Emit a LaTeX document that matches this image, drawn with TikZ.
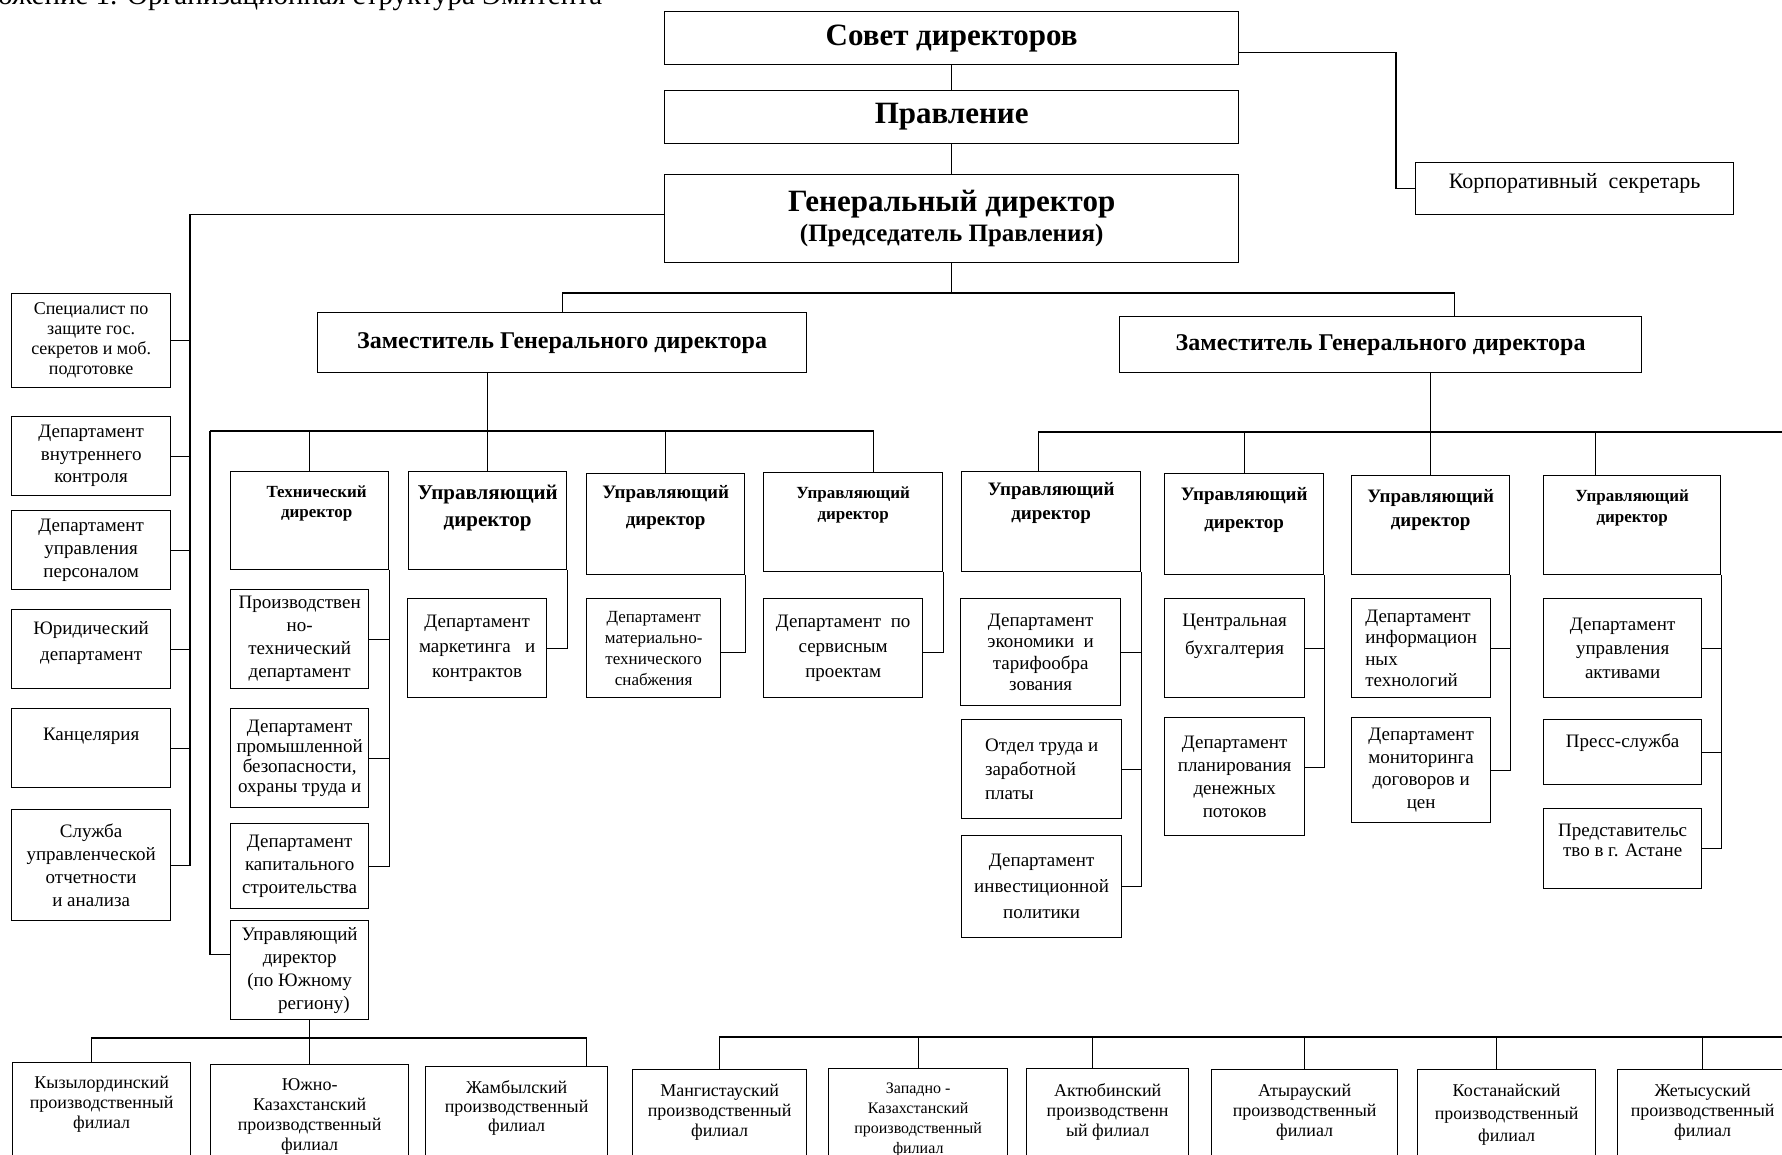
\documentclass[tikz,border=0pt]{standalone}
\usepackage{fontspec}
\setmainfont{Liberation Serif}
\usetikzlibrary{positioning,calc}

\newcommand{\fsz}[2]{\fontsize{#1}{#2}\selectfont}

\tikzset{
  box/.style={draw, line width=1.3pt, anchor=north west, inner sep=0pt, align=center},
  link/.style={line width=1.1pt},
  lab/.style={anchor=north, inner sep=0pt, align=center},
}

\begin{document}
\begin{tikzpicture}[x=1pt,y=-1pt]
    \useasboundingbox (0,0) rectangle (1782,1155);
    \clip (0,0) rectangle (1782,1155);

    % title, cut off at the top
    \node[anchor=base west, inner sep=0pt, font=\fsz{29}{33}] (title) at (-2,5) {ожение 1. Организационная структура Эмитента};

    % top of the structure
    \node[box, minimum width=574, minimum height=53, font=\bfseries\fsz{31}{34}] (sovet) at (664,11) {Совет директоров};
    \node[box, minimum width=574, minimum height=53, font=\bfseries\fsz{31}{34}] (pravl) at (664,90) {Правление};
    \node[box, minimum width=574, minimum height=88, font=\bfseries\fsz{31}{30}] (gen) at (664,174) {Генеральный директор\\{\fsz{25}{30}(Председатель Правления)}};
    \node[box, minimum width=318, minimum height=52, label={[lab, yshift=-11, font=\fsz{22}{26}]north:{Корпоративный\ \ секретарь}}] (korp) at (1415,162) {};

    \coordinate (kbend) at (1396,0);
    \coordinate (tbus) at (0,293);
    \draw[link] (sovet.south) -- (pravl.north);
    \draw[link] (pravl.south) -- (gen.north);
    \draw[link] ([yshift=-14]sovet.east) -| (kbend |- korp.west) -- (korp.west);

    % deputies
    \node[box, minimum width=489, minimum height=60, font=\bfseries\fsz{24}{28}] (zam1) at (317,312) {Заместитель Генерального директора};
    \node[box, minimum width=522, minimum height=56, font=\bfseries\fsz{24}{28}] (zam2) at (1119,316) {Заместитель Генерального директора};
    \coordinate (z2top) at ([xshift=74]zam2.north);
    \draw[link] (gen.south) -- (gen.south |- tbus);
    \draw[link] (zam1.north) |- (z2top |- tbus) -- (z2top);

    % left column under the general director
    \node[box, minimum width=159, minimum height=94, font=\fsz{18}{20}] (spec) at (11,293) {Специалист по\\защите гос.\\секретов и моб.\\подготовке};
    \node[box, minimum width=159, minimum height=79, font=\fsz{19}{22.5}] (vnk) at (11,416) {Департамент\\внутреннего\\контроля};
    \node[box, minimum width=159, minimum height=79, font=\fsz{19}{23}] (hr) at (11,510) {Департамент\\управления\\персоналом};
    \node[box, minimum width=159, minimum height=79, label={[lab, yshift=-12, font=\fsz{19}{26}]north:{Юридический\\департамент}}] (yur) at (11,609) {};
    \node[box, minimum width=159, minimum height=79, label={[lab, yshift=-20, font=\fsz{19}{22}]north:{Канцелярия}}] (kanc) at (11,708) {};
    \node[box, minimum width=159, minimum height=111, font=\fsz{19}{23}] (sluzh) at (11,809) {Служба\\управленческой\\отчетности\\и анализа};

    \coordinate (ltrunk) at (190,0);
    \draw[link] ([yshift=4]gen.west) -| (ltrunk |- sluzh.east) -- (sluzh.east);
    \foreach \n in {spec,vnk,hr,yur,kanc}
        \draw[link] (\n.east) -- (\n.east -| ltrunk);

    % first deputy: directors
    \node[box, minimum width=158, minimum height=98, label={[lab, yshift=-15, xshift=7, font=\bfseries\fsz{17}{20}]north:{Технический\\директор}}] (tech) at (230,471) {};
    \node[box, minimum width=158, minimum height=98, label={[lab, yshift=-14, font=\bfseries\fsz{21}{27}]north:{Управляющий\\директор}}] (ud1) at (408,471) {};
    \node[box, minimum width=158, minimum height=101, label={[lab, yshift=-12, font=\bfseries\fsz{19}{27}]north:{Управляющий\\директор}}] (ud2) at (586,473) {};
    \node[box, minimum width=179, minimum height=99, label={[lab, yshift=-15, font=\bfseries\fsz{17}{21}]north:{Управляющий\\директор}}] (ud3) at (763,472) {};

    \coordinate (lbus) at (210,431);
    \coordinate (ud3top) at ([xshift=20]ud3.north);
    \draw[link] (zam1.south -| ud1.north) -- (ud1.north);
    \draw[link] (lbus) -- (ud3top |- lbus) -- (ud3top);
    \draw[link] (tech.north) -- (tech.north |- lbus);
    \draw[link] (ud2.north) -- (ud2.north |- lbus);

    % technical director departments
    \node[box, minimum width=138, minimum height=99, font=\fsz{19}{23}] (prt) at (230,589) {Производствен\\но-\\технический\\департамент};
    \node[box, minimum width=138, minimum height=99, font=\fsz{19}{20}] (pbez) at (230,708) {Департамент\\промышленной\\безопасности,\\охраны труда и};
    \node[box, minimum width=138, minimum height=85, font=\fsz{19}{23}] (kap) at (230,823) {Департамент\\капитального\\строительства};
    \node[box, minimum width=138, minimum height=99, font=\fsz{19}{23}] (udug) at (230,920) {Управляющий\\директор\\(по Южному\\\hspace*{1.5em}региону)};

    \draw[link] (tech.south east) |- (kap.east);
    \draw[link] (prt.east) -- (prt.east -| tech.east);
    \draw[link] (pbez.east) -- (pbez.east -| tech.east);
    \draw[link] (lbus) |- ([yshift=16]udug.west);

    % managing directors departments
    \node[box, minimum width=139, minimum height=99, font=\fsz{19}{25}] (mark) at (407,598) {Департамент\\маркетинга\ \ \ и\\контрактов};
    \node[box, minimum width=134, minimum height=99, font=\fsz{17}{21}] (mts) at (586,598) {Департамент\\материально-\\технического\\снабжения};
    \node[box, minimum width=159, minimum height=99, font=\fsz{19}{25}] (serv) at (763,598) {Департамент\ \ по\\сервисным\\проектам};
    \draw[link] (ud1.south east) |- (mark.east);
    \draw[link] (ud2.south east) |- ([yshift=-4]mts.east);
    \draw[link] (ud3.south east) |- ([yshift=-4]serv.east);

    % southern region branches
    \node[box, minimum width=178, minimum height=110, label={[lab, yshift=-14, font=\fsz{18}{20}]north:{Кызылординский\\производственный\\филиал}}] (kyz) at (12,1062) {};
    \node[box, minimum width=198, minimum height=110, label={[lab, yshift=-14, font=\fsz{18}{20}]north:{Южно-\\Казахстанский\\производственный\\филиал}}] (yuk) at (210,1064) {};
    \node[box, minimum width=182, minimum height=110, label={[lab, yshift=-14, font=\fsz{18}{19}]north:{Жамбылский\\производственный\\филиал}}] (zham) at (425,1066) {};

    \coordinate (sbus) at (0,1038);
    \coordinate (kyztop) at ([xshift=-10]kyz.north);
    \coordinate (zhamtop) at ([xshift=70]zham.north);
    \draw[link] (yuk.north |- udug.south) -- (yuk.north);
    \draw[link] (kyztop) |- (zhamtop |- sbus) -- (zhamtop);

    % second deputy: directors
    \node[box, minimum width=179, minimum height=100, label={[lab, yshift=-11, font=\bfseries\fsz{19}{24}]north:{Управляющий\\директор}}] (ud4) at (961,471) {};
    \node[box, minimum width=159, minimum height=101, label={[lab, yshift=-14, font=\bfseries\fsz{19}{28}]north:{Управляющий\\директор}}] (ud5) at (1164,473) {};
    \node[box, minimum width=158, minimum height=99, label={[lab, yshift=-14, font=\bfseries\fsz{19}{24}]north:{Управляющий\\директор}}] (ud6) at (1351,475) {};
    \node[box, minimum width=177, minimum height=99, label={[lab, yshift=-15, font=\bfseries\fsz{17}{21}]north:{Управляющий\\директор}}] (ud7) at (1543,475) {};

    \coordinate (rbus) at (1782,432);
    \coordinate (ud4top) at ([xshift=-13]ud4.north);
    \coordinate (ud7top) at ([xshift=-37]ud7.north);
    \draw[link] (zam2.south -| ud6.north) -- (ud6.north);
    \draw[link] (ud4top) |- (rbus);
    \draw[link] (ud5.north) -- (ud5.north |- rbus);
    \draw[link] (ud7top) -- (ud7top |- rbus);

    % second deputy: departments
    \node[box, minimum width=160, minimum height=107, font=\fsz{19}{21.5}] (econ) at (960,598) {Департамент\\экономики\ \ и\\тарифообра\\зования};
    \node[box, minimum width=160, minimum height=99, align=left, font=\fsz{19}{24}] (trud) at (961,719) {Отдел труда и\\заработной\\платы};
    \node[box, minimum width=160, minimum height=102, font=\fsz{19}{26}] (invest) at (961,835) {Департамент\\инвестиционной\\политики};
    \draw[link] (ud4.south east) |- (invest.east);
    \draw[link] (econ.east) -- (econ.east -| ud4.east);
    \draw[link] (trud.east) -- (trud.east -| ud4.east);

    \node[box, minimum width=140, minimum height=99, label={[lab, yshift=-16, font=\fsz{19}{28}]north:{Центральная\\бухгалтерия}}] (cbuh) at (1164,598) {};
    \node[box, minimum width=140, minimum height=118, font=\fsz{19}{23}] (plan) at (1164,717) {Департамент\\планирования\\денежных\\потоков};
    \draw[link] (ud5.south east) |- ([yshift=9]plan.east);
    \draw[link] (cbuh.east) -- (cbuh.east -| ud5.east);

    \node[box, minimum width=139, minimum height=99, align=left, font=\fsz{19}{21.5}] (itd) at (1351,598) {Департамент\\информацион\\ных\\технологий};
    \node[box, minimum width=139, minimum height=105, font=\fsz{19}{22.5}] (monit) at (1351,717) {Департамент\\мониторинга\\договоров и\\цен};
    \draw[link] (ud6.south east) |- (monit.east);
    \draw[link] (itd.east) -- (itd.east -| ud6.east);

    \node[box, minimum width=158, minimum height=99, font=\fsz{19}{24}] (aktiv) at (1543,598) {Департамент\\управления\\активами};
    \node[box, minimum width=158, minimum height=65, label={[lab, yshift=-15, font=\fsz{19}{22}]north:{Пресс-служба}}] (press) at (1543,719) {};
    \node[box, minimum width=158, minimum height=80, label={[lab, yshift=-16, font=\fsz{19}{20}]north:{Представительс\\тво в г. Астане}}] (pred) at (1543,808) {};
    \draw[link] (ud7.south east) |- (pred.east);
    \draw[link] (aktiv.east) -- (aktiv.east -| ud7.east);
    \draw[link] (press.east) -- (press.east -| ud7.east);

    % regional branches
    \node[box, minimum width=174, minimum height=110, label={[lab, yshift=-15, font=\fsz{18}{20}]north:{Мангистауский\\производственный\\филиал}}] (mang) at (632,1069) {};
    \node[box, minimum width=179, minimum height=110, label={[lab, yshift=-15, font=\fsz{16}{20}]north:{Западно -\\Казахстанский\\производственный\\филиал}}] (zap) at (828,1068) {};
    \node[box, minimum width=162, minimum height=110, label={[lab, yshift=-15, font=\fsz{18}{20}]north:{Актюбинский\\производственн\\ый филиал}}] (akt) at (1026,1068) {};
    \node[box, minimum width=186, minimum height=110, label={[lab, yshift=-15, font=\fsz{18}{20}]north:{Атырауский\\производственный\\филиал}}] (atyr) at (1211,1069) {};
    \node[box, minimum width=178, minimum height=110, label={[lab, yshift=-15, font=\fsz{18}{22.5}]north:{Костанайский\\производственный\\филиал}}] (kost) at (1417,1069) {};
    \node[box, minimum width=170, minimum height=110, label={[lab, yshift=-15, font=\fsz{18}{20}]north:{Жетысуский\\производственный\\филиал}}] (zhet) at (1617,1069) {};

    \coordinate (bbus) at (1782,1037);
    \coordinate (akttop) at ([xshift=-15]akt.north);
    \coordinate (kosttop) at ([xshift=-10]kost.north);
    \draw[link] (mang.north) |- (bbus);
    \foreach \n in {zap,atyr,zhet}
        \draw[link] (\n.north) -- (\n.north |- bbus);
    \draw[link] (akttop) -- (akttop |- bbus);
    \draw[link] (kosttop) -- (kosttop |- bbus);
\end{tikzpicture}
\end{document}
